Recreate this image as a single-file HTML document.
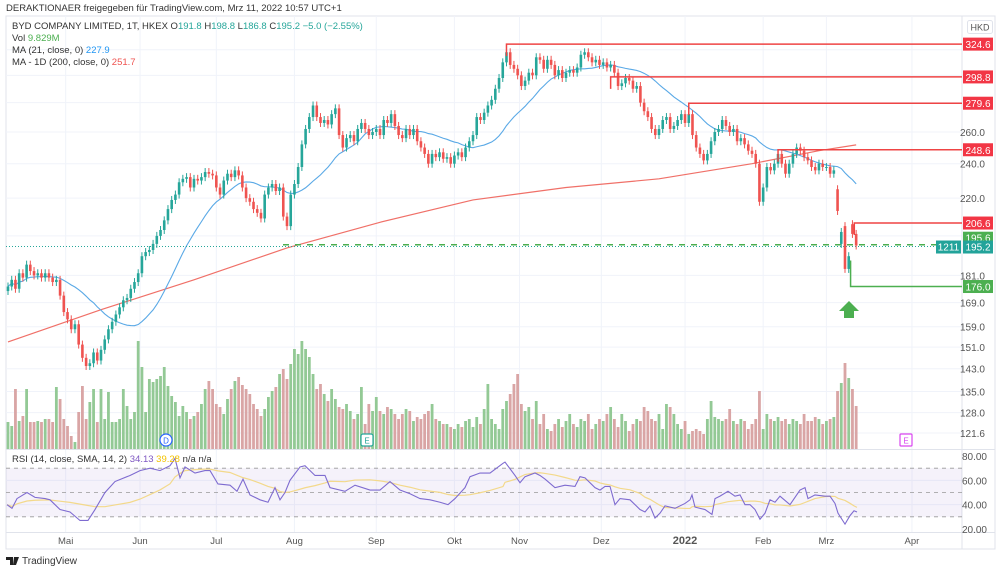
<!DOCTYPE html>
<html><head><meta charset="utf-8">
<style>
html,body{margin:0;padding:0;background:#fff;width:1000px;height:572px;overflow:hidden;font-family:"Liberation Sans",sans-serif;}
svg{position:absolute;left:0;top:0}
</style></head>
<body>
<svg id="c" width="1000" height="572" xmlns="http://www.w3.org/2000/svg"></svg>
<script>
const closes=[176,179,175,182,180,186,183,181,182,180,
182,180,178,179,172,165,162,158,160,152,
147,144,145,149,146,150,154,158,161,164,
167,170,171,175,178,182,190,192,193,196,
200,203,208,214,219,222,229,231,232,226,
231,230,232,235,234,233,226,222,230,234,
232,236,233,226,220,218,214,212,209,222,
226,228,224,226,210,205,222,228,238,252,
262,270,278,270,266,268,265,272,276,258,
250,256,258,254,262,266,262,258,260,262,
258,268,266,272,264,258,256,262,258,262,
254,250,246,240,246,244,247,243,244,240,
245,247,244,250,254,258,270,268,273,278,
282,290,298,310,318,308,305,300,292,296,
302,300,314,312,305,312,308,300,304,298,
302,304,302,306,316,318,314,310,312,308,
310,306,308,302,292,294,298,296,290,292,
280,274,270,262,258,262,268,270,262,264,
268,272,266,272,258,250,246,242,246,254,
260,262,268,264,260,262,254,256,252,248,
246,240,218,226,238,236,240,246,240,234,
240,246,250,248,244,242,238,236,240,238,
238,234,236,213,202,184,190,201,195.2];
const opensOverride={223:225,224:196,225:205,227:206};
const volumes=[27,23,60,28,33,60,27,27,28,27,
30,30,27,62,50,30,23,13,7,37,
63,30,47,60,27,60,30,57,27,27,
30,60,43,30,37,108,82,37,70,67,
70,73,82,63,53,47,33,43,37,30,
33,37,45,60,68,60,45,42,35,50,
60,68,72,64,60,55,45,40,33,40,
52,58,62,75,80,70,85,100,95,108,
100,92,75,60,65,55,48,60,50,42,
40,45,38,30,35,62,25,45,38,52,
38,35,42,40,35,30,35,40,38,28,
32,30,35,38,45,30,28,25,25,22,
20,25,22,28,30,22,32,25,40,65,
30,25,20,40,48,55,65,75,45,38,
42,30,48,25,35,20,18,25,30,22,
28,35,25,22,30,28,35,20,25,30,
28,35,42,30,22,35,28,18,25,30,
28,42,38,30,28,35,20,45,42,35,
25,20,28,15,18,20,18,15,30,48,
32,30,28,30,40,28,25,30,28,20,
25,30,58,20,35,30,28,32,28,30,
25,30,28,25,35,28,28,32,30,25,
28,30,32,58,66,86,71,60,43];
const rsiX=[7,12,17,27,35,45,50,60,70,80,88,95,105,115,130,140,150,160,170,175,180,185,195,205,210,218,230,237,243,250,260,268,275,280,285,290,300,305,315,325,330,345,355,370,380,390,400,410,420,430,440,448,455,465,470,480,490,503,505,515,520,525,535,540,545,555,565,575,580,585,595,600,605,610,615,620,630,640,645,650,655,660,665,675,685,690,692,695,705,712,715,720,728,735,740,745,750,755,760,765,770,775,780,790,800,805,808,815,825,830,835,838,845,850,854,857];
const rsiValues=[40,37,45,50,46,45,44,36,34,27,27,36,50,59,64,68,70,68,72,78,62,71,66,68,68,57,56,51,61,48,44,42,54,44,50,60,71,72,64,64,54,51,56,52,52,59,52,49,45,44,42,40,45,54,63,66,66,74,75,64,58,63,66,64,61,54,56,55,63,62,54,52,55,55,40,45,44,36,34,39,29,33,39,37,41,44,48,38,36,32,45,47,51,47,48,40,40,36,28,33,44,42,47,40,52,54,45,48,47,47,41,33,24,31,35,34];
const ma200Idx=[0,25,50,75,100,125,150,175,200,218,228];
const ma200Values=[153,166,179,194,207,219,226,231,240,248,251.7];
const priceTicks=[260,240,220,181,169,159,151,143,135,128,121.6];
const gridPrices=[320,300,280,260,240,220,200,181,169,159,151,143,135,128,121.6];
const months=["Mai","Jun","Jul","Aug","Sep","Okt","Nov","Dez","2022","Feb","Mrz","Apr"];
const monthIdx=[15.5,35.5,56,77,99,120,137.5,159.5,182,203,220,243];
const rsiTicks=[80,60,40,20];
const levelsRed=[[324.6,134],[298.8,162],[279.6,183],[248.6,207],[206.6,227.5]];
const levelGreen=[176.0,226.5];

const svg=document.getElementById('c');
const NS='http://www.w3.org/2000/svg';
function el(tag,attrs,parent){const e=document.createElementNS(NS,tag);for(const k in attrs)e.setAttribute(k,attrs[k]);(parent||svg).appendChild(e);return e;}
const xOf=i=>8+3.72*i;
const yP=p=>132-(Math.log(p)-Math.log(260))*396;
const yR=r=>456+(80-r)*73/60;
const yV=v=>449-v;

// frame
let f=el('rect',{x:6,y:16,width:989,height:533,fill:'none',stroke:'#e0e3eb'});

// grid
const g=el('g',{stroke:'#f0f3fa','stroke-width':1});

gridPrices.forEach(p=>el('line',{x1:6,x2:962,y1:yP(p),y2:yP(p)},g));
monthIdx.forEach(m=>el('line',{x1:xOf(m),x2:xOf(m),y1:16,y2:532},g));
el('line',{x1:6,x2:962,y1:yR(60),y2:yR(60)},g);el('line',{x1:6,x2:962,y1:yR(40),y2:yR(40)},g);
// separators
el('line',{x1:962,x2:962,y1:16,y2:549,stroke:'#e0e3eb'});
el('line',{x1:6,x2:995,y1:449.5,y2:449.5,stroke:'#e0e3eb'});
el('line',{x1:6,x2:995,y1:532.5,y2:532.5,stroke:'#e0e3eb'});

// volume
const vg=el('g',{});
const opens=closes.map((c,i)=>opensOverride[i]!==undefined?opensOverride[i]:(i?closes[i-1]:c-2));
volumes.forEach((v,i)=>{const up=closes[i]>=opens[i];
 const r=el('rect',{x:xOf(i)-1.4,y:yV(v),width:2.8,height:v,fill:up?'#93c995':'#d9a5a5'},vg);
 });

// MA200
let pts=ma200Idx.map((k,j)=>xOf(k)+','+yP(ma200Values[j])).join(' ');
const m2=el('polyline',{points:pts,fill:'none',stroke:'#f07068','stroke-width':1.2});

// MA21
const ma21=closes.map((c,i)=>{const s=closes.slice(Math.max(0,i-20),i+1);return s.reduce((a,b)=>a+b,0)/s.length;});
const m1=el('polyline',{points:ma21.map((v,i)=>xOf(i)+','+yP(v)).join(' '),fill:'none',stroke:'#5aa9e6','stroke-width':1.1});


// current price line
const cl=el('line',{x1:283,x2:962,y1:yP(195.6),y2:yP(195.6),stroke:'#4caf50','stroke-width':1.5,'stroke-dasharray':'6,6'});

el('line',{x1:6,x2:962,y1:yP(195.2)+1,y2:yP(195.2)+1,stroke:'#26a69a','stroke-width':1,'stroke-dasharray':'1,2'});

// candles
const cg=el('g',{});
closes.forEach((c,i)=>{const o=opens[i],up=c>=o,col=up?'#26a69a':'#ef5350';
 const t=yP(Math.max(o,c)),b=yP(Math.min(o,c)),x=xOf(i);
 el('line',{x1:x,x2:x,y1:t-4,y2:b+4,stroke:col,'stroke-width':1},cg);
 const r=el('rect',{x:x-1.3,y:t,width:2.6,height:Math.max(1,b-t),fill:col},cg);
 });

// level lines
levelsRed.forEach(([p,i])=>{const y=yP(p),x=xOf(i);
 const l=el('polyline',{points:`${x},${y+12} ${x},${y} 962,${y}`,fill:'none',stroke:'#ef4444','stroke-width':1.5});
 
 el('rect',{x:963,y:y-6.5,width:30,height:13,fill:'#f23645'});
 const t=el('text',{x:978,y:y+4,'font-size':10,fill:'#fff','text-anchor':'middle'});t.textContent=p.toFixed(1);
 });
{const y=yP(levelGreen[0]),x=xOf(levelGreen[1]);
 const l=el('polyline',{points:`${x},${y-26} ${x},${y} 962,${y}`,fill:'none',stroke:'#4caf50','stroke-width':1.5});
 
 el('rect',{x:963,y:y-6.5,width:30,height:13,fill:'#4caf50'});
 const t=el('text',{x:978,y:y+4,'font-size':10,fill:'#fff','text-anchor':'middle'});t.textContent='176.0';
 }
// arrow
const ar=el('path',{d:'M849,301 L859,311 L854,311 L854,318 L844,318 L844,311 L839,311 Z',fill:'#4caf50'});

// price labels
el('rect',{x:963,y:yP(195.6)-13,width:30,height:12,fill:'#4caf50'});
let t=el('text',{x:978,y:yP(195.6)-3,'font-size':10,fill:'#fff','text-anchor':'middle'});t.textContent='195.6';
el('rect',{x:963,y:yP(195.2)-5,width:30,height:13,fill:'#22a39a'});
t=el('text',{x:978,y:yP(195.2)+5,'font-size':10,fill:'#fff','text-anchor':'middle'});t.textContent='195.2';

el('rect',{x:936,y:yP(195.2)-5,width:25,height:13,fill:'#22a39a'});
t=el('text',{x:948.5,y:yP(195.2)+5,'font-size':10,fill:'#fff','text-anchor':'middle'});t.textContent='1211';


// price axis ticks
priceTicks.forEach(p=>{const t=el('text',{x:985,y:yP(p)+4,'font-size':10,fill:'#555','text-anchor':'end'});t.textContent=p.toFixed(1);
 });
el('rect',{x:967.5,y:20.5,width:25,height:13,rx:2,fill:'#fff',stroke:'#e0e3eb'});
t=el('text',{x:980,y:30.5,'font-size':9,fill:'#555','text-anchor':'middle'});t.textContent='HKD';


// RSI pane
const band=el('rect',{x:6,y:yR(70),width:956,height:yR(30)-yR(70),fill:'rgba(126,87,194,0.08)'});

[70,50,30].forEach(v=>el('line',{x1:6,x2:962,y1:yR(v),y2:yR(v),stroke:'#999','stroke-dasharray':'4,4','stroke-width':0.8}));
const rsiMa=rsiValues.map((v,i)=>{const s=rsiValues.slice(Math.max(0,i-8),i+1);return s.reduce((a,b)=>a+b,0)/s.length;});
let pl=el('polyline',{points:rsiMa.map((v,i)=>rsiX[i]+','+yR(v)).join(' '),fill:'none',stroke:'#f3d98b','stroke-width':1.2});

pl=el('polyline',{points:rsiValues.map((v,i)=>rsiX[i]+','+yR(v)).join(' '),fill:'none',stroke:'#7e6bd0','stroke-width':1.1});

rsiTicks.forEach(v=>{const t=el('text',{x:987,y:yR(v)+4,'font-size':10,fill:'#555','text-anchor':'end'});t.textContent=v.toFixed(2);
 });

// time axis
months.forEach((m,k)=>{const t=el('text',{x:xOf(monthIdx[k]),y:544,'font-size':m==='2022'?11:9.5,'font-weight':m==='2022'?'bold':'normal',fill:'#555','text-anchor':'middle'});t.textContent=m;
 });

// event markers
el('circle',{cx:166,cy:440,r:6,fill:'#fff',stroke:'#2962ff','stroke-width':1.2});
t=el('text',{x:166,y:443.5,'font-size':8,fill:'#2962ff','text-anchor':'middle'});t.textContent='D';

el('rect',{x:361,y:434,width:12,height:12,rx:2,fill:'#fff',stroke:'#26a69a','stroke-width':1.2});
t=el('text',{x:367,y:443.5,'font-size':8,fill:'#26a69a','text-anchor':'middle'});t.textContent='E';

el('rect',{x:900,y:434,width:12,height:12,rx:1,fill:'#fff',stroke:'#d946ef','stroke-width':1.2});
t=el('text',{x:906,y:443.5,'font-size':8,fill:'#d946ef','text-anchor':'middle'});t.textContent='E';


// header/legend text
function txt(x,y,parts,name,size){const e=el('text',{x:x,y:y,'font-size':size||9.5,fill:'#333'});
 parts.forEach(([s,c])=>{const sp=el('tspan',{fill:c},e);sp.textContent=s;});
 }
txt(6,11,[['DERAKTIONAER freigegeben für TradingView.com, Mrz 11, 2022 10:57 UTC+1','#333']],'publish-header',9.5);
txt(12,29,[['BYD COMPANY LIMITED, 1T, HKEX  O','#333'],['191.8','#26a69a'],['  H','#333'],['198.8','#26a69a'],['  L','#333'],['186.8','#26a69a'],['  C','#333'],['195.2  −5.0 (−2.55%)','#26a69a']],'symbol-legend');
txt(12,41,[['Vol  ','#333'],['9.829M','#4caf50']],'volume-legend');
txt(12,53,[['MA (21, close, 0)  ','#333'],['227.9','#2196f3']],'ma21-legend');
txt(12,65,[['MA - 1D (200, close, 0)  ','#333'],['251.7','#ef5350']],'ma200-legend');
txt(12,462,[['RSI (14, close, SMA, 14, 2)  ','#333'],['34.13  ','#7e57c2'],['39.28  ','#f2c200'],['n/a  n/a','#333']],'rsi-legend');
txt(22,564,[['TradingView','#333']],'tradingview-logo',10);
el('path',{d:'M6,557 h7 v8 h-3 v-5 h-4 z M14,557 h5 l-3,8 h-3 z',fill:'#222'});
</script>
</body></html>
